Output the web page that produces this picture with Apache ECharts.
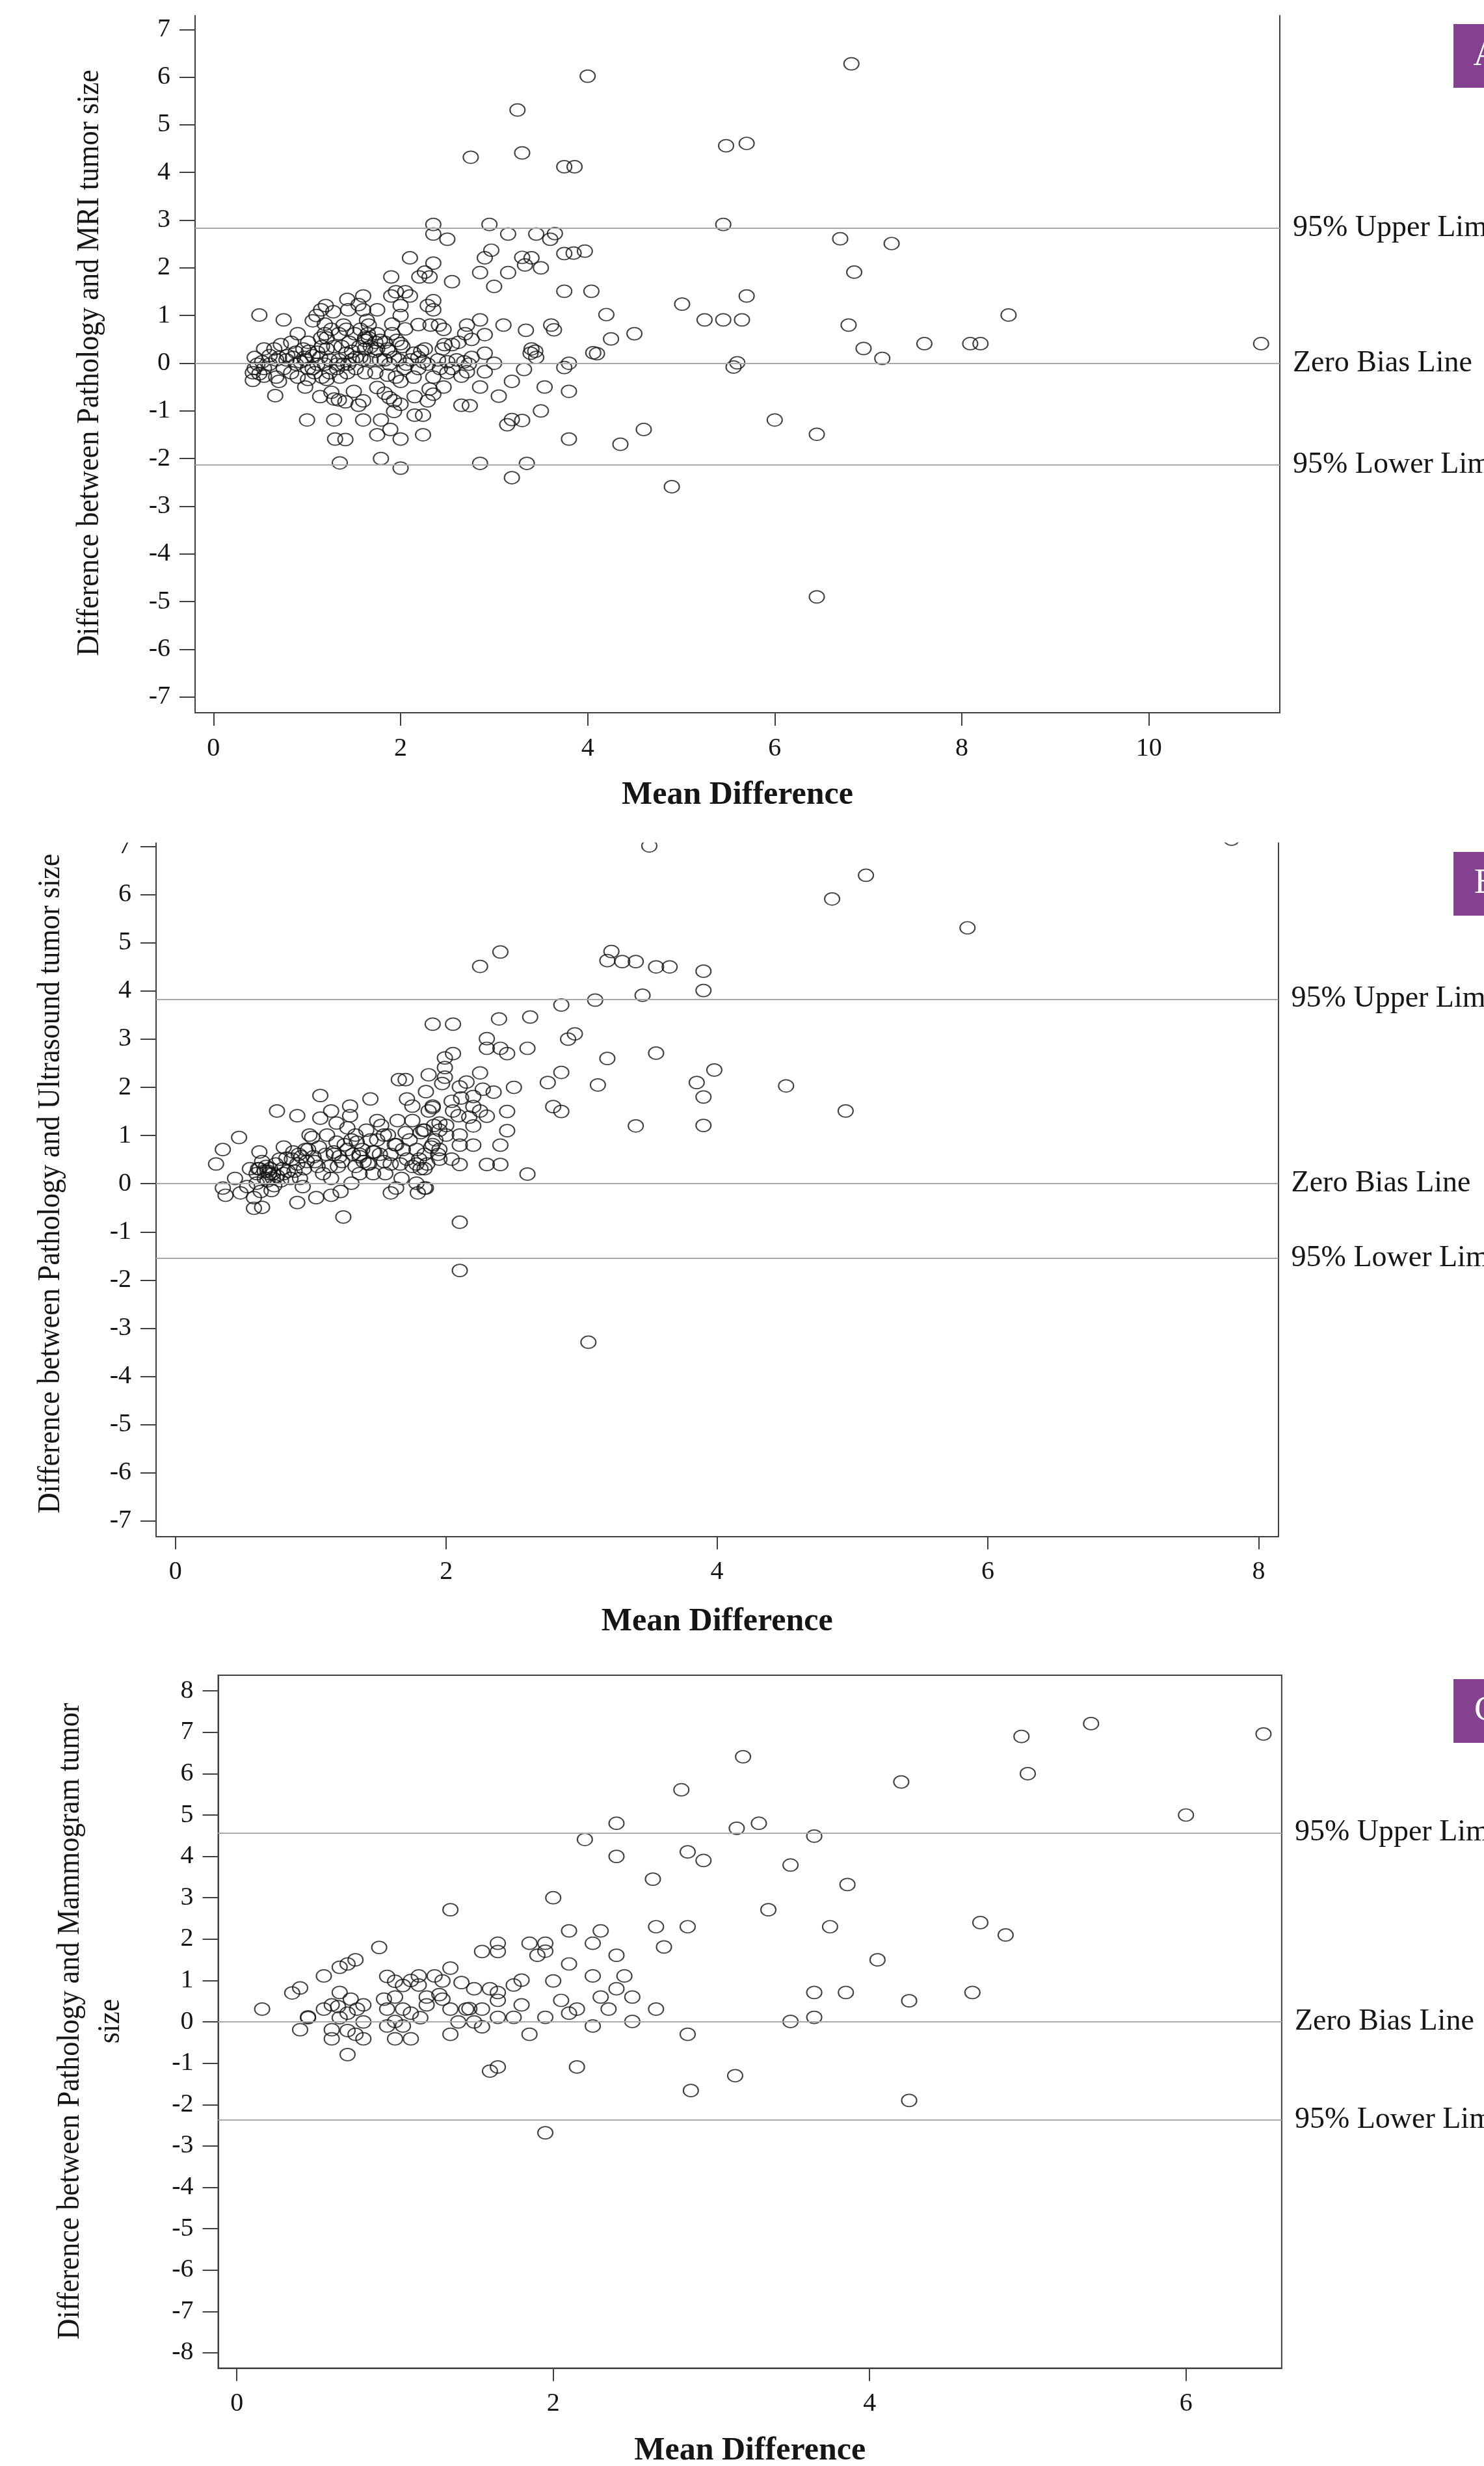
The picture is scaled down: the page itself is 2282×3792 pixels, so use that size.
<!DOCTYPE html>
<html>
<head>
<meta charset="utf-8">
<title>Bland-Altman: Pathology vs MRI / Ultrasound / Mammogram</title>
<script src="https://cdn.jsdelivr.net/npm/echarts@6/dist/echarts.min.js"></script>
<style>
  html, body { margin: 0; padding: 0; background: #fff; }
  #chart { width: 2282px; height: 3792px; }
</style>
</head>
<body>
<div id="chart"></div>
<script>
// [mean difference, difference]
const mriPoints = [
  [2.35,2.91],[2.95,2.91],[2.35,2.71],[2.50,2.60],[3.15,2.71],[3.45,2.71],[3.65,2.72],[3.60,2.60],[2.97,2.37],[2.90,2.21],
  [3.75,2.30],[3.85,2.31],[3.97,2.35],[2.10,2.21],[2.35,2.10],[3.30,2.22],[3.40,2.21],[3.33,2.06],[3.50,2.00],[2.26,1.91],
  [2.20,1.81],[2.31,1.81],[1.90,1.81],[2.85,1.90],[3.15,1.90],[2.55,1.71],[3.00,1.61],[3.75,1.51],[4.04,1.51],[1.95,1.50],
  [2.05,1.50],[1.90,1.41],[2.10,1.41],[1.60,1.41],[1.43,1.34],[2.00,1.21],[2.35,1.31],[2.29,1.21],[2.35,1.12],[2.00,1.00],
  [1.20,1.21],[1.15,1.12],[1.28,1.08],[1.10,1.00],[1.55,1.23],[1.60,1.12],[1.44,1.12],[1.75,1.12],[0.49,1.01],[0.75,0.91],
  [1.06,0.89],[1.19,0.82],[1.39,0.80],[1.64,0.90],[1.66,0.80],[1.91,0.82],[2.05,0.72],[2.19,0.81],[2.32,0.80],[2.41,0.80],
  [2.46,0.71],[2.71,0.80],[2.85,0.91],[3.10,0.80],[3.34,0.69],[3.61,0.80],[3.64,0.70],[2.90,0.60],[2.69,0.62],[2.76,0.50],
  [2.62,0.44],[2.55,0.39],[2.00,0.41],[1.96,0.48],[1.91,0.62],[1.75,0.62],[1.62,0.53],[1.51,0.62],[1.42,0.71],[1.34,0.62],
  [1.21,0.53],[1.15,0.53],[0.90,0.62],[0.83,0.44],[0.72,0.39],[0.65,0.30],[0.54,0.30],[0.44,0.12],[0.85,0.12],[0.93,0.03],
  [0.98,0.07],[1.06,0.16],[1.11,0.23],[1.19,-0.02],[1.24,0.07],[1.32,-0.02],[1.42,0.21],[1.48,0.25],[1.56,0.35],[1.62,0.48],
  [1.68,0.35],[1.73,0.25],[1.78,0.48],[1.86,0.30],[1.93,0.12],[2.02,0.35],[2.14,0.21],[2.22,0.25],[2.26,0.30],[2.24,0.03],
  [2.45,0.30],[2.47,0.39],[2.50,0.03],[2.68,0.03],[2.76,0.12],[2.90,0.21],[3.00,0.00],[3.40,0.30],[3.44,0.25],[3.39,0.21],
  [3.45,0.12],[3.80,0.00],[3.75,-0.09],[4.06,0.22],[3.32,-0.13],[2.90,-0.18],[3.19,-0.38],[3.54,-0.50],[3.80,-0.59],[2.85,-0.50],
  [3.05,-0.69],[2.65,-0.88],[2.74,-0.89],[3.50,-1.00],[3.30,-1.20],[3.19,-1.18],[3.14,-1.29],[3.80,-1.59],[2.85,-2.10],[3.35,-2.10],
  [3.19,-2.40],[2.00,-2.20],[1.35,-2.09],[1.79,-2.00],[1.30,-1.59],[1.41,-1.60],[1.75,-1.50],[1.89,-1.39],[2.00,-1.59],[2.24,-1.50],
  [1.00,-1.19],[1.29,-1.19],[1.60,-1.19],[1.79,-1.19],[2.15,-1.09],[2.24,-1.09],[1.93,-1.01],[2.00,-0.86],[2.29,-0.79],[2.35,-0.65],
  [2.31,-0.54],[2.46,-0.50],[2.15,-0.70],[1.88,-0.72],[1.83,-0.63],[1.93,-0.79],[1.60,-0.79],[1.55,-0.88],[1.41,-0.81],[1.34,-0.77],
  [1.29,-0.75],[1.26,-0.61],[1.50,-0.59],[1.75,-0.51],[1.14,-0.70],[0.98,-0.50],[0.66,-0.68],[0.70,-0.38],[0.67,-0.29],[0.42,-0.36],
  [0.49,-0.22],[0.54,-0.27],[0.44,-0.11],[0.75,-0.11],[0.83,-0.20],[0.90,-0.29],[1.01,-0.34],[1.08,-0.20],[1.16,-0.29],[1.21,-0.34],
  [1.35,-0.29],[1.43,-0.20],[1.52,-0.11],[1.62,-0.20],[1.73,-0.20],[1.86,-0.25],[1.95,-0.29],[2.00,-0.38],[2.14,-0.29],[2.35,-0.29],
  [2.50,-0.20],[2.55,-0.11],[2.65,-0.27],[2.71,-0.18],
  [0.78,0.07],[0.88,-0.02],[1.01,-0.11],[1.11,-0.02],[1.14,0.12],[1.21,0.30],[1.37,0.35],[1.45,0.44],[1.52,0.12],[1.60,0.07],
  [1.65,0.62],[1.68,0.07],[1.78,0.07],[1.88,-0.02],[2.06,-0.02],[2.19,0.12],[2.60,0.07],[2.73,-0.02],[0.60,-0.02],[0.67,0.07],
  [0.52,0.03],[0.54,-0.11],[0.96,0.30],[1.01,0.44],[1.19,0.62],[1.26,0.71],[1.57,0.71],[1.73,0.44],[1.83,0.44],[1.44,-0.02],
  [1.06,-0.11],[1.24,-0.20],[1.32,-0.11],
  [0.79,0.16],[0.88,0.23],[0.97,0.12],[1.02,0.25],[1.16,0.35],[1.29,0.35],[1.34,0.07],[1.39,-0.02],[1.48,0.07],[1.57,0.12],
  [1.62,0.30],[1.66,0.53],[1.75,0.30],[1.83,0.07],[1.88,0.25],[1.98,0.07],[2.04,-0.11],[2.11,0.07],[2.19,-0.11],[2.29,-0.02],
  [2.40,0.07],[2.42,-0.11],[0.70,0.12],[0.60,0.16],[0.47,-0.02],[0.42,-0.20],
  [4.00,6.02],[3.25,5.31],[2.75,4.32],[3.30,4.41],[3.75,4.12],[3.86,4.12],[6.82,6.28],[5.48,4.56],[5.70,4.61],[5.45,2.91],
  [6.70,2.61],[7.25,2.51],[6.85,1.91],[5.70,1.41],[5.01,1.24],[4.20,1.02],[5.25,0.91],[5.45,0.91],[5.65,0.91],[6.79,0.80],
  [8.50,1.01],[4.50,0.62],[4.25,0.51],[4.10,0.20],[7.60,0.41],[8.09,0.41],[8.20,0.41],[11.20,0.41],[6.95,0.31],[7.15,0.10],
  [5.60,0.01],[5.56,-0.08],[6.00,-1.19],[6.45,-1.49],[4.60,-1.39],[4.35,-1.70],[4.90,-2.59],[6.45,-4.90]
];

const ultrasoundPoints = [
  [1.90,3.31],[0.30,0.41],[0.35,0.71],[0.47,0.96],[0.35,-0.09],[0.37,-0.24],[0.44,0.11],[0.48,-0.19],[0.53,-0.06],[0.55,0.31],
  [0.58,-0.51],[0.64,-0.49],[0.58,-0.29],[0.62,0.66],[0.64,0.46],[0.67,0.36],[0.69,0.21],[0.66,0.11],[0.71,-0.14],[0.74,0.41],
  [0.75,0.16],[0.79,0.31],[0.80,0.76],[0.82,0.53],[0.85,0.11],[0.87,0.66],[0.90,0.41],[0.91,0.61],[0.94,-0.06],[0.95,0.31],
  [0.97,0.46],[0.99,1.01],[1.01,0.96],[0.75,1.51],[0.90,1.41],[0.90,-0.39],[1.07,1.83],[1.07,1.36],[1.04,-0.29],[1.09,0.21],
  [1.11,0.61],[1.12,1.01],[1.15,1.51],[1.15,0.11],[1.15,-0.24],[1.19,1.26],[1.19,0.86],[1.22,-0.16],[1.23,0.46],[1.24,-0.69],
  [1.27,1.16],[1.29,1.61],[1.29,1.41],[1.30,0.91],[1.31,0.61],[1.33,0.36],[1.30,0.01],[1.36,0.21],[1.38,0.71],[1.41,1.11],
  [1.39,0.46],[1.44,1.76],[1.44,0.91],[1.46,0.21],[1.49,1.31],[1.51,0.61],[1.52,1.21],[1.55,0.21],[1.59,0.61],[1.59,-0.19],
  [1.63,-0.09],[1.64,1.31],[1.65,2.16],[1.68,0.71],[1.70,2.16],[1.71,1.76],[1.73,0.91],[1.75,1.31],[1.75,0.36],[1.75,1.61],
  [1.78,0.01],[1.79,-0.19],[1.81,0.31],[1.84,-0.09],[1.85,1.91],[1.87,2.26],[1.87,1.51],[1.89,0.76],[1.91,1.21],[1.90,1.61],
  [1.94,0.61],[1.95,1.26],
  [0.60,0.21],[0.62,0.31],[0.66,0.26],[0.70,0.31],[0.72,0.21],[0.68,0.06],[0.78,0.06],[0.83,0.26],[0.86,0.51],[0.93,0.56],
  [0.96,0.71],[0.60,0.01],[0.63,-0.16],[0.73,-0.04],[1.02,0.56],[1.05,0.36],[1.14,0.36],[1.17,0.66],[1.21,0.56],[1.25,0.81],
  [1.34,0.86],[1.36,0.56],[1.42,0.41],[1.47,0.66],[1.54,0.46],[1.57,1.01],[1.62,0.81],[1.66,0.41],[1.70,1.06],[1.80,0.51],
  [1.83,1.11],[1.86,0.41],
  [0.61,0.31],[0.68,0.26],[0.72,0.11],[0.77,0.51],[0.80,0.21],[0.88,0.26],[0.92,0.11],[0.98,0.71],[1.03,0.46],[1.06,0.76],
  [1.17,0.61],[1.20,0.36],[1.27,0.71],[1.33,1.01],[1.36,0.61],[1.43,0.41],[1.46,0.66],[1.49,0.91],[1.54,1.01],[1.59,0.41],
  [1.63,0.81],[1.67,0.11],[1.71,0.51],[1.78,0.71],[1.81,1.06],[1.84,0.61],[1.92,0.91],
  [2.40,4.81],[2.25,4.51],[3.22,4.82],[3.19,4.63],[3.30,4.61],[3.40,4.61],[3.55,4.50],[3.65,4.50],[3.45,3.91],[3.10,3.81],
  [2.85,3.71],[2.05,3.31],[2.39,3.42],[2.62,3.46],[2.30,3.01],[2.30,2.81],[2.40,2.81],[2.45,2.70],[2.60,2.81],[2.90,3.00],
  [2.95,3.11],[3.55,2.71],[3.19,2.60],[2.05,2.70],[1.99,2.61],[1.99,2.41],[1.99,2.21],[1.97,2.08],[2.25,2.30],[2.85,2.31],
  [2.75,2.10],[3.12,2.05],[2.50,2.00],[2.15,2.11],[2.10,2.01],[2.27,1.96],[2.35,1.90],[2.20,1.81],[2.11,1.78],[2.04,1.71],
  [1.90,1.58],[2.20,1.60],[2.25,1.51],[2.30,1.40],[2.17,1.38],[2.09,1.41],[2.05,1.51],[2.79,1.60],[2.85,1.50],[2.45,1.50],
  [3.40,1.20],[2.45,1.10],[2.20,1.20],[2.00,1.21],[1.95,1.11],[1.84,1.11],[2.10,1.01],[2.00,1.01],[2.20,0.80],[2.10,0.80],
  [2.40,0.80],[1.90,0.81],[1.95,0.71],[1.95,0.51],[2.04,0.51],[2.10,0.40],[2.30,0.40],[2.40,0.40],[2.60,0.20],[1.84,0.31],
  [1.78,0.41],[1.85,-0.09],[2.10,-0.80],[2.10,-1.80],
  [3.50,7.01],[7.80,7.15],[5.10,6.40],[4.85,5.91],[5.85,5.31],[3.90,4.41],[3.90,4.01],[3.98,2.36],[3.85,2.10],[3.90,1.80],
  [4.51,2.03],[4.95,1.51],[3.90,1.21],[3.05,-3.29]
];

const mammogramPoints = [
  [0.16,0.31],[0.35,0.70],[0.40,0.82],[0.40,-0.19],[0.45,0.10],[0.45,0.12],[0.55,1.11],[0.55,0.31],[0.60,0.41],[0.60,-0.19],
  [0.60,-0.41],[0.64,0.37],[0.65,0.71],[0.65,1.32],[0.65,0.10],[0.70,1.40],[0.70,0.21],[0.70,-0.21],[0.70,-0.79],[0.75,1.50],
  [0.72,0.55],[0.75,-0.30],[0.76,0.31],[0.80,0.41],[0.80,0.00],[0.80,-0.41],[0.90,1.80],[0.95,1.10],[0.93,0.55],[0.95,0.31],
  [0.95,-0.10],[1.00,0.98],[1.00,0.60],[1.00,0.01],[1.00,-0.41],[1.05,0.88],[1.05,0.31],[1.05,-0.10],[1.10,1.00],[1.10,0.21],
  [1.10,-0.41],[1.15,1.11],[1.16,0.10],[1.15,0.89],[1.20,0.60],[1.20,0.41],[1.25,1.11],[1.28,0.66],[1.30,0.99],[1.30,0.55],
  [1.35,2.71],[1.35,1.30],[1.35,0.31],[1.35,-0.30],[1.40,0.00],[1.42,0.95],[1.45,0.31],[1.47,0.32],[1.50,0.80],[1.50,0.00],
  [1.55,1.70],[1.55,0.31],[1.55,-0.12],[1.60,0.80],[1.60,-1.19],[1.65,1.90],[1.65,1.70],[1.65,0.71],[1.65,0.52],[1.65,0.11],
  [1.65,-1.09],[1.75,0.89],[1.75,0.11],[1.80,1.01],[1.80,0.41],[1.85,1.90],[1.85,-0.30],[1.90,1.61],[1.95,1.90],[1.95,1.71],
  [1.95,0.11],[1.95,-2.68],[2.00,3.00],[2.00,0.99],[2.05,0.52],[2.10,2.20],[2.10,1.40],[2.10,0.21],[2.15,0.31],[2.15,-1.09],
  [2.20,4.41],[2.25,1.90],[2.25,1.11],[2.25,-0.10],[2.30,2.20],[2.30,0.60],[2.35,0.31],[2.40,4.80],[2.40,4.00],[2.40,1.61],
  [2.40,0.80],[2.45,1.11],[2.50,0.60],[2.50,0.01],[2.63,3.45],[2.65,2.30],[2.65,0.31],[2.70,1.81],[2.85,4.11],[2.95,3.90],
  [2.85,2.30],[2.85,-0.30],[2.87,-1.66],
  [2.81,5.61],[5.40,7.21],[4.96,6.90],[6.49,6.96],[3.20,6.41],[5.00,6.00],[4.20,5.80],[6.00,5.00],[3.16,4.68],[3.30,4.80],
  [3.65,4.49],[3.50,3.79],[3.86,3.32],[3.36,2.71],[3.75,2.30],[4.70,2.40],[4.86,2.10],[4.05,1.50],[3.65,0.71],[3.85,0.71],
  [4.25,0.51],[4.65,0.71],[3.50,0.01],[3.65,0.11],[3.15,-1.30],[4.25,-1.90]
];

// upper limit, zero bias, lower limit
const mriLimits = [2.83, 0, -2.13];
const ultrasoundLimits = [3.83, 0, -1.55];
const mammogramLimits = [4.57, 0, -2.37];
const limitNames = ['95% Upper Limit', 'Zero Bias Line', '95% Lower Limit'];

const mriXTicks = [0, 2, 4, 6, 8, 10];
const ultrasoundXTicks = [0, 2, 4, 6, 8];
const mammogramXTicks = [0, 2, 4, 6];
const yTicksSeven = [-7, -6, -5, -4, -3, -2, -1, 0, 1, 2, 3, 4, 5, 6, 7];
const yTicksEight = [-8, -7, -6, -5, -4, -3, -2, -1, 0, 1, 2, 3, 4, 5, 6, 7, 8];

const panelLetters = ['A', 'B', 'C'];
const yTitles = [
  'Difference between Pathology and MRI tumor size',
  'Difference between Pathology and Ultrasound tumor size',
  'Difference between Pathology and Mammogram tumor\nsize'
];
const xTitle = 'Mean Difference';

const SERIF = '"Liberation Serif", "Times New Roman", serif';
const AXIS = '#404040';
const INK = '#151515';

// layout of the three stacked panels (pixels) and their axis extents
const panels = [
  { grid: { left: 300, top: 24, width: 1668, height: 1072 }, x: [-0.197, 11.40], y: [-7.33, 7.29],
    points: mriPoints, limits: mriLimits, xTicks: mriXTicks, yTicks: yTicksSeven, nameGap: 102,
    titleAt: [138, 558], box: 37, rightAxis: true },
  { grid: { left: 240, top: 1295.6, width: 1725.6, height: 1067 }, x: [-0.143, 8.145], y: [-7.32, 7.08],
    points: ultrasoundPoints, limits: ultrasoundLimits, xTicks: ultrasoundXTicks, yTicks: yTicksSeven, nameGap: 106,
    titleAt: [78, 1820], box: 1310, rightAxis: true },
  { grid: { left: 335.5, top: 2576, width: 1635.4, height: 1065.5 }, x: [-0.118, 6.605], y: [-8.37, 8.38],
    points: mammogramPoints, limits: mammogramLimits, xTicks: mammogramXTicks, yTicks: yTicksEight, nameGap: 103,
    titleAt: [139, 3108], box: 2582, rightAxis: false }
];

const chart = echarts.init(document.getElementById('chart'), null, { renderer: 'canvas' });

const grids = [], xAxes = [], yAxes = [], series = [], graphics = [];

panels.forEach((p, i) => {
  grids.push(Object.assign({
    containLabel: false,
    outerBoundsMode: 'none',
    show: !p.rightAxis,
    borderColor: AXIS,
    borderWidth: 2,
    backgroundColor: 'transparent'
  }, p.grid));

  xAxes.push({
    type: 'value', gridIndex: i, min: p.x[0], max: p.x[1],
    name: xTitle, nameLocation: 'middle', nameGap: p.nameGap,
    nameTextStyle: { fontFamily: SERIF, fontSize: 50, fontWeight: 'bold', color: INK },
    axisLine: { show: true, onZero: false, lineStyle: { color: AXIS, width: 2 } },
    axisTick: { show: true, length: 20, customValues: p.xTicks, lineStyle: { color: AXIS, width: 2 } },
    axisLabel: { customValues: p.xTicks, margin: 35, fontFamily: SERIF, fontSize: 40, color: INK },
    splitLine: { show: false }
  });

  yAxes.push({
    type: 'value', gridIndex: i, min: p.y[0], max: p.y[1], position: 'left',
    axisLine: { show: true, onZero: false, lineStyle: { color: AXIS, width: 2 } },
    axisTick: { show: true, length: 24, customValues: p.yTicks, lineStyle: { color: AXIS, width: 2 } },
    axisLabel: { customValues: p.yTicks, margin: 38, fontFamily: SERIF, fontSize: 40, color: INK },
    splitLine: { show: false }
  });

  series.push({
    type: 'scatter', xAxisIndex: i, yAxisIndex: i,
    data: p.points,
    symbol: 'circle', symbolSize: [23, 19],
    itemStyle: { color: 'rgba(0,0,0,0)', borderColor: '#111', borderWidth: 1.9 },
    clip: false, silent: true,
    markLine: {
      silent: true, symbol: 'none', animation: false,
      lineStyle: { color: '#a9a9a9', width: 2, type: 'solid' },
      label: { show: true, position: 'end', distance: 20, formatter: '{b}',
               fontFamily: SERIF, fontSize: 46, color: INK },
      emphasis: { disabled: true },
      data: p.limits.map((v, k) => ({ name: limitNames[k], yAxis: v }))
    }
  });

  // y axis titles, rotated to read bottom-to-top, a little condensed like the source
  graphics.push({
    type: 'text', x: p.titleAt[0], y: p.titleAt[1], rotation: Math.PI / 2, scaleX: 0.92,
    style: { text: yTitles[i], fill: INK, font: '48px ' + SERIF, lineHeight: 62,
             align: 'center', verticalAlign: 'middle', textAlign: 'center', textVerticalAlign: 'middle' }
  });

  // purple panel tag, partly off the right edge
  graphics.push({
    type: 'rect', shape: { x: 2235, y: p.box, width: 100, height: 98 },
    style: { fill: '#84418F' }
  });
  graphics.push({
    type: 'text', x: 2285, y: p.box + 49,
    style: { text: panelLetters[i], fill: '#fff', font: '54px ' + SERIF,
             align: 'center', verticalAlign: 'middle', textAlign: 'center', textVerticalAlign: 'middle' }
  });
});

// right-hand frame lines for the first two panels (no top edge there)
panels.forEach((p, i) => {
  if (!p.rightAxis) return;
  yAxes.push({
    type: 'value', gridIndex: i, min: p.y[0], max: p.y[1], position: 'right',
    axisLine: { show: true, onZero: false, lineStyle: { color: AXIS, width: 2 } },
    axisTick: { show: false }, axisLabel: { show: false }, splitLine: { show: false }
  });
});

// panel B was cropped at its top in the source figure
graphics.push({
  type: 'rect', z: 100, shape: { x: 0, y: 1252, width: 2282, height: 43.6 },
  style: { fill: '#fff' }
});

chart.setOption({
  backgroundColor: '#fff',
  animation: false,
  grid: grids,
  xAxis: xAxes,
  yAxis: yAxes,
  series: series,
  graphic: { elements: graphics }
});
</script>
</body>
</html>
